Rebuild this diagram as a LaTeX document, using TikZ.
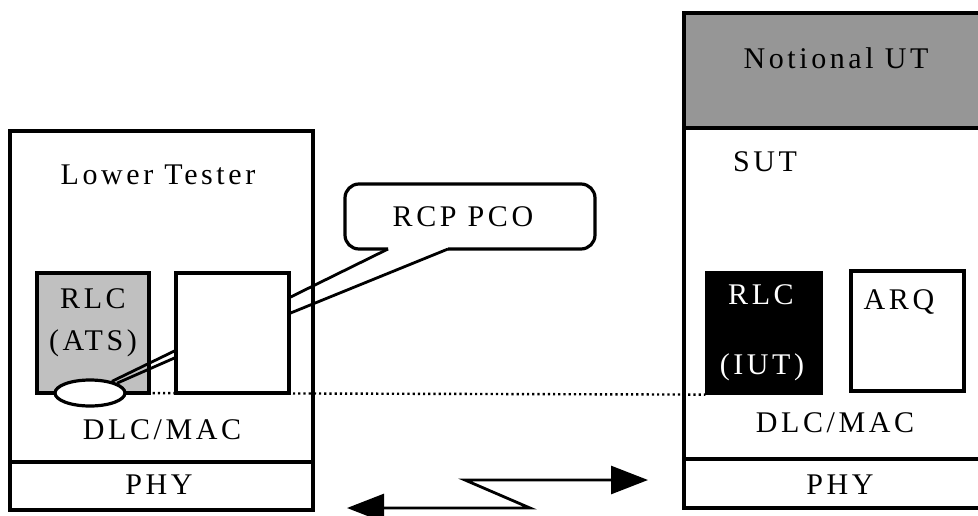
\documentclass[tikz,border=0pt]{standalone}
\usepackage{fontspec}
\setmainfont{Liberation Serif}[LetterSpace=12]
\usetikzlibrary{arrows.meta,shapes.geometric}
\definecolor{atsgray}{HTML}{C0C0C0}
\definecolor{utgray}{HTML}{969696}

\begin{document}
\begin{tikzpicture}[x=1pt,y=-1pt,line width=3.2pt,
  box/.style={draw,rectangle,inner sep=0pt},
  lbl/.style={font=\fontsize{30}{32}\selectfont,inner sep=0pt},
  dots/.style={line width=2.4pt,dash pattern=on 2.2pt off 3pt},
  bolt/.style={line width=2.8pt,{Triangle[length=37pt,width=28pt]}-{Triangle[length=37pt,width=28pt]}}]

    \useasboundingbox (0,0) rectangle (978,515);
    \clip (0,0) rectangle (978,515);

    % lower tester
    \draw (10,131) rectangle (313,510);
    \draw (10,462) -- (313,462);
    \node[lbl] (lt) at (158,175) {Lower Tester};
    \node[box,fill=atsgray,minimum width=112pt,minimum height=120pt] (ats) at (93,333) {};
    \node[lbl] at (93,299) {RLC};
    \node[lbl] at (93,343) {(ATS)};
    \node[box,fill=white,minimum width=113pt,minimum height=120pt] (pco) at (232.5,333) {};
    \node[draw,ellipse,fill=white,minimum width=70pt,minimum height=26pt,inner sep=0pt] (sap) at (90,393) {};
    \node[lbl] (ldlc) at (162,430) {DLC/MAC};
    \node[lbl] (lphy) at (159,485) {PHY};

    % SUT side
    \fill[utgray] (684,13) rectangle (990,128);
    \draw (684,13) rectangle (990,508);
    \draw (684,128) -- (990,128);
    \draw (684,459) -- (990,459);
    \node[lbl] (ut) at (836,58) {Notional UT};
    \node[lbl] (sut) at (765,162) {SUT};
    \node[box,fill=black,minimum width=114pt,minimum height=120pt] (iut) at (764,333) {};
    \node[lbl,text=white] at (761,295) {RLC};
    \node[lbl,text=white] at (762,367) {(IUT)};
    \node[box,minimum width=113pt,minimum height=120pt] (arq) at (907.5,331) {};
    \node[lbl] at (899,302) {ARQ};
    \node[lbl] (rdlc) at (835,423) {DLC/MAC};
    \node[lbl] (rphy) at (840,485) {PHY};

    % PCO callout
    \node[lbl] (rcp) at (463,217) {RCP PCO};
    \coordinate (tipA) at (388,249);
    \coordinate (tipB) at (448,249);
    \draw[rounded corners=14pt] (tipA) -- (345,249) -- (345,184) -- (595,184) -- (595,249) -- (tipB);
    \draw[line width=2.8pt] (pco.east |- 0,297) -- (tipA);
    \draw[line width=2.8pt] (pco.east |- 0,313) -- (tipB);
    \draw[line width=2.8pt] (sap.28) -- (pco.west |- 0,351);
    \draw[line width=2.8pt] (sap.20) -- (pco.west |- 0,358);

    % dotted link
    \draw[dots] (sap.east) -- (iut.south west);

    % radio link
    \coordinate (lo) at (347,508);
    \coordinate (hi) at (648,480);
    \draw[bolt] (lo) -- (530,508) -- (465,480) -- (hi);
\end{tikzpicture}
\end{document}
